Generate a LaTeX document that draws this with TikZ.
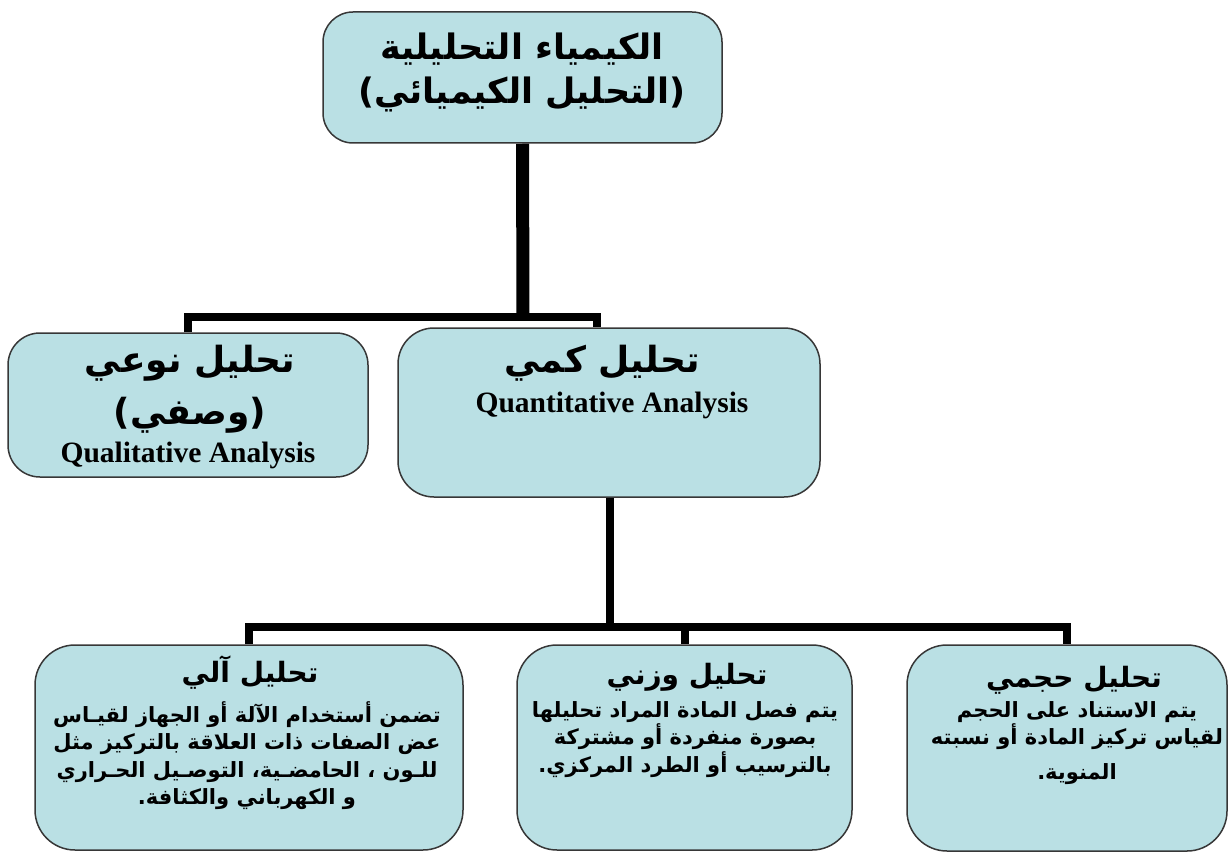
\documentclass[tikz,border=0pt]{standalone}
\usepackage{fontspec}
\setmainfont{Liberation Serif}
\newfontfamily\arabicfont[Script=Arabic]{DejaVu Sans}
\TeXXeTstate=1
\usetikzlibrary{positioning}
\definecolor{boxblue}{RGB}{186,224,228}
\definecolor{boxline}{RGB}{55,55,55}
\newcommand{\ar}[1]{\beginR #1\endR}

\begin{document}
\begin{tikzpicture}[x=1pt, y=-1pt,
    tbox/.style={draw=boxline, line width=1.5pt, fill=boxblue, inner sep=0pt},
    link/.style={line width=8pt, draw=black},
    big/.style={font=\arabicfont\bfseries\fontsize{35}{44}\selectfont, align=center, inner sep=0pt},
    mid/.style={font=\arabicfont\bfseries\fontsize{36}{40}\selectfont, align=center, inner sep=0pt},
    head/.style={font=\arabicfont\bfseries\fontsize{28}{30}\selectfont, align=center, inner sep=0pt},
    body/.style={font=\arabicfont\bfseries\fontsize{21}{27.5}\selectfont, align=center, inner sep=0pt, anchor=north},
    eng/.style={font=\bfseries\fontsize{29.5}{32}\selectfont, inner sep=0pt}]
    \useasboundingbox (0,0) rectangle (1230,853);
    % boxes
    \node[tbox, rounded corners=30pt, minimum width=399pt, minimum height=131pt] (chem) at (522.5,77.5) {};
    \node[tbox, rounded corners=32pt, minimum width=360pt, minimum height=144pt] (qual) at (188,405) {};
    \node[tbox, rounded corners=36pt, minimum width=422pt, minimum height=169pt] (quant) at (609,412.5) {};
    \node[tbox, rounded corners=40pt, minimum width=428pt, minimum height=205pt] (inst) at (249,747.5) {};
    \node[tbox, rounded corners=40pt, minimum width=335pt, minimum height=205pt] (grav) at (684.5,747.5) {};
    \node[tbox, rounded corners=40pt, minimum width=320pt, minimum height=206pt] (vol) at (1067,748) {};
    % connectors
    \coordinate (j1) at (523,317);
    \coordinate (q1) at (597,317);
    \coordinate (j2) at (610,627);
    \draw[link, line width=13pt] (chem.south) -- (j1);
    \draw[link] (qual.north) -- (qual.north |- j1) -- (q1) -- (q1 |- quant.north);
    \draw[link] (quant.south -| j2) -- (j2);
    \draw[link] (inst.north) -- (inst.north |- j2) -- (vol.north |- j2) -- (vol.north);
    \draw[link] (grav.north) -- (grav.north |- j2);
    % texts
    \node[big] (chemtxt) at (522,72) {\ar{الكيمياء التحليلية}\\\ar{(التحليل الكيميائي)}};
    \node[mid] (qualtit) at (190,363) {\ar{تحليل نوعي}};
    \node[mid] (qualsub) at (190,415) {\ar{(وصفي)}};
    \node[eng] (qualen) at (188,455) {Qualitative Analysis};
    \node[mid] (quanttit) at (602,363) {\ar{تحليل كمي}};
    \node[eng] (quanten) at (612,405) {Quantitative Analysis};
    \node[head] (insttit) at (250,673) {\ar{تحليل آلي}};
    \node[head] (gravtit) at (687,677) {\ar{تحليل وزني}};
    \node[head] (voltit) at (1074,680) {\ar{تحليل حجمي}};
    \node[body] (insttxt) at (247,701) {\ar{تضمن أستخدام الآلة أو الجهاز لقيـاس}\\\ar{عض الصفات ذات العلاقة بالتركيز مثل}\\\ar{للـون ، الحامضـية، التوصـيل الحـراري}\\\ar{و الكهرباني والكثافة.}};
    \node[body] (gravtxt) at (685,701) {\ar{يتم فصل المادة المراد تحليلها}\\\ar{بصورة منفردة أو مشتركة}\\\ar{بالترسيب أو الطرد المركزي.}};
    \node[body] (voltxt) at (1077,701) {\ar{يتم الاستناد على الحجم}\\\ar{لقياس تركيز المادة أو نسبته}\\[7pt]\ar{المنوية.}};
\end{tikzpicture}
\end{document}
